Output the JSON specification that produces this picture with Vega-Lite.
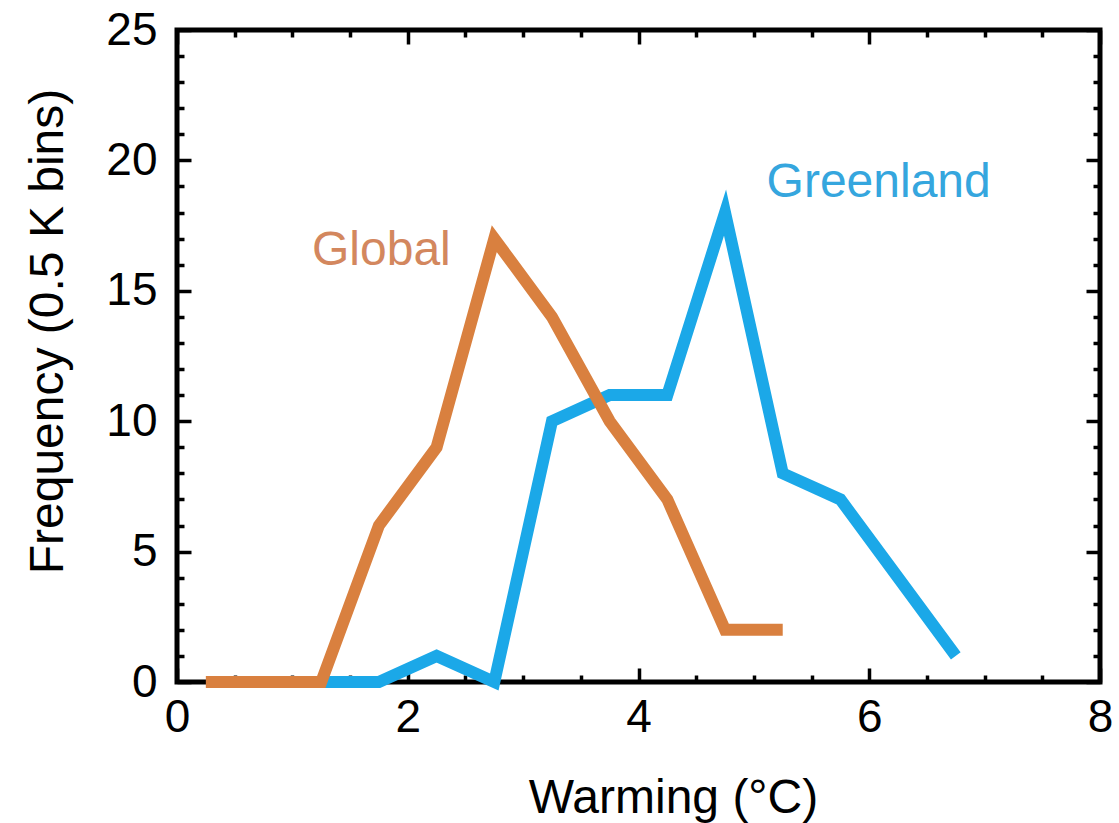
{
  "$schema": "https://vega.github.io/schema/vega-lite/v6.json",
  "width": 923,
  "height": 652,
  "autosize": {"type": "none"},
  "padding": {"left": 177, "top": 30, "right": 19, "bottom": 141},
  "background": "white",
  "config": {
    "view": {"stroke": "black", "strokeWidth": 5},
    "font": "Liberation Sans"
  },
  "datasets": {
    "lines": [
      {"series": "Greenland", "warming": 1.25, "freq": 0},
      {"series": "Greenland", "warming": 1.75, "freq": 0},
      {"series": "Greenland", "warming": 2.25, "freq": 1},
      {"series": "Greenland", "warming": 2.75, "freq": 0},
      {"series": "Greenland", "warming": 3.25, "freq": 10},
      {"series": "Greenland", "warming": 3.75, "freq": 11},
      {"series": "Greenland", "warming": 4.25, "freq": 11},
      {"series": "Greenland", "warming": 4.75, "freq": 18},
      {"series": "Greenland", "warming": 5.25, "freq": 8},
      {"series": "Greenland", "warming": 5.75, "freq": 7},
      {"series": "Greenland", "warming": 6.25, "freq": 4},
      {"series": "Greenland", "warming": 6.75, "freq": 1},
      {"series": "Global", "warming": 0.25, "freq": 0},
      {"series": "Global", "warming": 0.75, "freq": 0},
      {"series": "Global", "warming": 1.25, "freq": 0},
      {"series": "Global", "warming": 1.75, "freq": 6},
      {"series": "Global", "warming": 2.25, "freq": 9},
      {"series": "Global", "warming": 2.75, "freq": 17},
      {"series": "Global", "warming": 3.25, "freq": 14},
      {"series": "Global", "warming": 3.75, "freq": 10},
      {"series": "Global", "warming": 4.25, "freq": 7},
      {"series": "Global", "warming": 4.75, "freq": 2},
      {"series": "Global", "warming": 5.25, "freq": 2}
    ],
    "labels": [
      {"series": "Global", "warming": 1.17, "freq": 16.0},
      {"series": "Greenland", "warming": 5.11, "freq": 18.6}
    ]
  },
  "layer": [
    {
      "data": {"name": "lines"},
      "transform": [{"filter": "datum.series === 'Greenland'"}],
      "mark": {"type": "line", "color": "#1BA8E8", "strokeWidth": 12, "strokeCap": "butt", "strokeJoin": "miter"},
      "encoding": {
        "x": {
          "field": "warming", "type": "quantitative",
          "scale": {"domain": [0, 8], "nice": false, "zero": false},
          "axis": {
            "orient": "bottom",
            "values": [0, 0.5, 1, 1.5, 2, 2.5, 3, 3.5, 4, 4.5, 5, 5.5, 6, 6.5, 7, 7.5, 8],
            "format": "~g",
            "domain": false, "grid": false,
            "tickSize": {"condition": {"test": "datum.value % 2 === 0", "value": -14}, "value": -7},
            "tickColor": "black", "tickWidth": 3.5,
            "labelExpr": "datum.value % 2 === 0 ? datum.label : ''",
            "labelFontSize": 46, "labelFont": "Liberation Sans", "labelColor": "black",
            "labelPadding": 27, "labelFlush": false, "labelOverlap": false,
            "title": "Warming (°C)", "titleFont": "Liberation Sans", "titleFontSize": 48,
            "titleFontWeight": "normal", "titleColor": "black",
            "titleBaseline": "alphabetic", "titleX": 496, "titleY": 130
          }
        },
        "y": {
          "field": "freq", "type": "quantitative",
          "scale": {"domain": [0, 25], "nice": false, "zero": false},
          "axis": {
            "orient": "left",
            "values": [0, 1, 2, 3, 4, 5, 6, 7, 8, 9, 10, 11, 12, 13, 14, 15, 16, 17, 18, 19, 20, 21, 22, 23, 24, 25],
            "format": "~g",
            "domain": false, "grid": false,
            "tickSize": {"condition": {"test": "datum.value % 5 === 0", "value": -14}, "value": -7},
            "tickColor": "black", "tickWidth": 3.5,
            "labelExpr": "datum.value % 5 === 0 ? datum.label : ''",
            "labelFontSize": 46, "labelFont": "Liberation Sans", "labelColor": "black",
            "labelPadding": 34, "labelFlush": false, "labelOverlap": false,
            "title": "Frequency (0.5 K bins)", "titleFont": "Liberation Sans", "titleFontSize": 48,
            "titleFontWeight": "normal", "titleColor": "black",
            "titleAngle": -90, "titleBaseline": "alphabetic", "titleAlign": "center",
            "titleX": -115, "titleY": 301
          }
        }
      }
    },
    {
      "data": {"name": "lines"},
      "transform": [{"filter": "datum.series === 'Global'"}],
      "mark": {"type": "line", "color": "#D9803F", "strokeWidth": 12, "strokeCap": "butt", "strokeJoin": "miter"},
      "encoding": {
        "x": {
          "field": "warming", "type": "quantitative",
          "axis": {
            "orient": "top",
            "values": [0, 0.5, 1, 1.5, 2, 2.5, 3, 3.5, 4, 4.5, 5, 5.5, 6, 6.5, 7, 7.5, 8],
            "domain": false, "grid": false, "labels": false, "title": null,
            "tickSize": {"condition": {"test": "datum.value % 2 === 0", "value": -14}, "value": -7},
            "tickColor": "black", "tickWidth": 3.5
          }
        },
        "y": {
          "field": "freq", "type": "quantitative",
          "axis": {
            "orient": "right",
            "values": [0, 1, 2, 3, 4, 5, 6, 7, 8, 9, 10, 11, 12, 13, 14, 15, 16, 17, 18, 19, 20, 21, 22, 23, 24, 25],
            "domain": false, "grid": false, "labels": false, "title": null,
            "tickSize": {"condition": {"test": "datum.value % 5 === 0", "value": -14}, "value": -7},
            "tickColor": "black", "tickWidth": 3.5
          }
        }
      }
    },
    {
      "data": {"name": "labels"},
      "mark": {"type": "text", "align": "left", "baseline": "alphabetic", "fontSize": 48, "font": "Liberation Sans"},
      "encoding": {
        "x": {"field": "warming", "type": "quantitative", "axis": null},
        "y": {"field": "freq", "type": "quantitative", "axis": null},
        "text": {"field": "series"},
        "color": {
          "field": "series", "type": "nominal",
          "scale": {"domain": ["Global", "Greenland"], "range": ["#D3875E", "#35A6DE"]},
          "legend": null
        }
      }
    }
  ],
  "resolve": {"axis": {"x": "independent", "y": "independent"}}
}
